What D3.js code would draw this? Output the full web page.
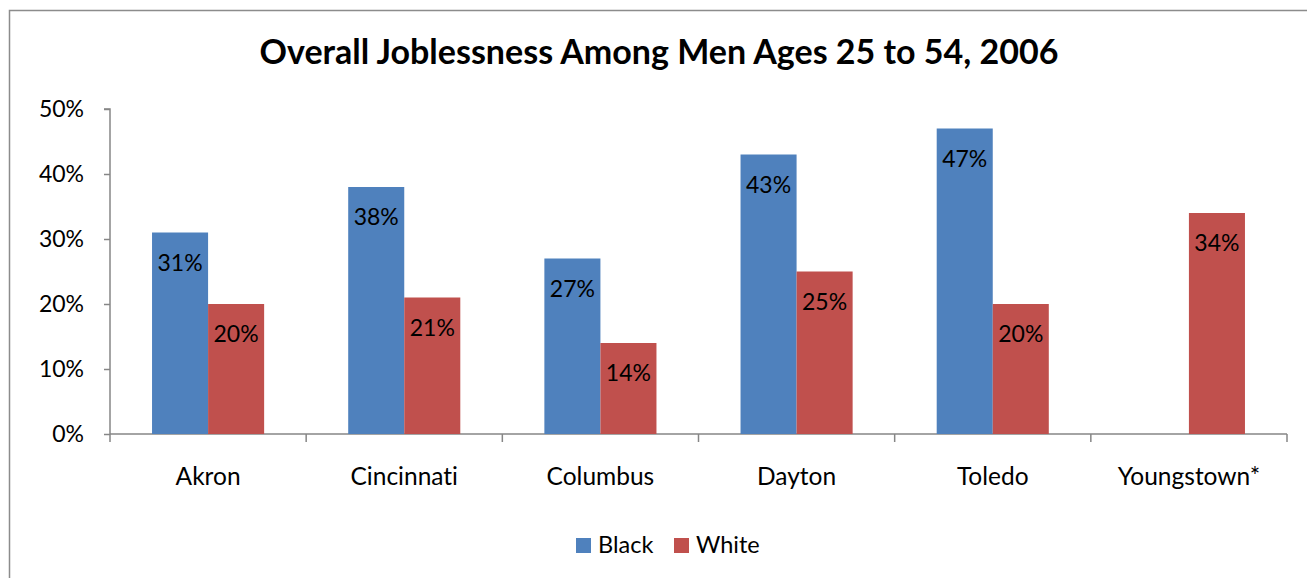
<!DOCTYPE html>
<html>
<head>
<meta charset="utf-8">
<script src="https://cdn.jsdelivr.net/npm/d3@7"></script>
<style>
  body { margin: 0; background: #fff; }
  svg { display: block; font-family: Lato, "Open Sans", sans-serif; font-variant-ligatures: none; }
</style>
</head>
<body>
<svg id="chart"></svg>
<script>
// chart data
const cities = ['Akron', 'Cincinnati', 'Columbus', 'Dayton', 'Toledo', 'Youngstown*'];
const seriesNames = ['Black', 'White'];
const blackValues = [31, 38, 27, 43, 47, null];
const whiteValues = [20, 21, 14, 25, 20, 34];
const yTicks = [0, 10, 20, 30, 40, 50];
const colors = ['#4F81BD', '#C0504D'];

const width = 1307, height = 578;
const svg = d3.select('#chart').attr('width', width).attr('height', height);

// frame around the chart
svg.append('rect')
  .attr('x', 9.5).attr('y', 10.5)
  .attr('width', width + 20).attr('height', height + 20)
  .attr('fill', 'none').attr('stroke', '#8c8c8c').attr('stroke-width', 1.5);

const plotLeft = 110, plotRight = 1287, plotTop = 109, plotBottom = 434;

const x0 = d3.scaleBand().domain(cities).range([plotLeft, plotRight]).padding(0);
const bw = x0.bandwidth();
const barW = bw / 3.5; // gap width 150%
const x1 = d3.scaleBand().domain(seriesNames).range([(bw - 2 * barW) / 2, (bw + 2 * barW) / 2]);

const y = d3.scaleLinear().domain([0, 50]).range([plotBottom, plotTop]);

// title
svg.append('text')
  .attr('x', 659).attr('y', 64)
  .attr('text-anchor', 'middle')
  .attr('font-weight', 'bold').attr('font-size', 34)
  .text('Overall Joblessness Among Men Ages 25 to 54, 2006');

// y axis
const yAxis = svg.append('g')
  .attr('transform', `translate(${plotLeft},0)`)
  .call(d3.axisLeft(y).tickValues(yTicks).tickSize(6).tickPadding(20).tickFormat(d => d + '%'));
yAxis.selectAll('path, line').attr('stroke', '#868686').attr('stroke-width', 1.5);
yAxis.select('.domain').attr('d', `M-6,${plotTop}H0V${plotBottom}`);
yAxis.selectAll('text').attr('font-size', 23).attr('font-family', 'Lato').attr('fill', '#000');

// x axis
const xTickPos = cities.map(c => x0(c)).concat([plotRight]);
const xAxis = svg.append('g').attr('transform', `translate(0,${plotBottom})`);
xAxis.append('line').attr('x1', plotLeft).attr('x2', plotRight)
  .attr('stroke', '#868686').attr('stroke-width', 1.5);
xAxis.selectAll('line.tick').data(xTickPos).join('line')
  .attr('class', 'tick')
  .attr('x1', d => d).attr('x2', d => d).attr('y1', 0).attr('y2', 8)
  .attr('stroke', '#868686').attr('stroke-width', 1.5);
xAxis.selectAll('text').data(cities).join('text')
  .attr('x', d => x0(d) + bw / 2).attr('y', 51)
  .attr('text-anchor', 'middle').attr('font-size', 24.5)
  .text(d => d);

// bars
const rows = cities.map((c, i) => ({ city: c, vals: [blackValues[i], whiteValues[i]] }));
const groups = svg.append('g').selectAll('g').data(rows).join('g')
  .attr('transform', d => `translate(${x0(d.city)},0)`);

const cells = groups.selectAll('g').data(d => d.vals.map((v, k) => ({ key: seriesNames[k], v, k })).filter(e => e.v != null))
  .join('g');

cells.append('rect')
  .attr('x', d => x1(d.key)).attr('width', x1.bandwidth())
  .attr('y', d => y(d.v)).attr('height', d => y(0) - y(d.v))
  .attr('fill', d => colors[d.k]);

cells.append('text')
  .attr('x', d => x1(d.key) + x1.bandwidth() / 2)
  .attr('y', d => y(d.v) + 38)
  .attr('text-anchor', 'middle').attr('font-size', 23)
  .text(d => d.v + '%');

// legend
const legend = svg.append('g');
const legendX = [576, 674];
seriesNames.forEach((s, i) => {
  legend.append('rect').attr('x', legendX[i]).attr('y', 538).attr('width', 15).attr('height', 15).attr('fill', colors[i]);
  legend.append('text').attr('x', legendX[i] + 22).attr('y', 553).attr('font-size', 23.5).text(s);
});
</script>
</body>
</html>
